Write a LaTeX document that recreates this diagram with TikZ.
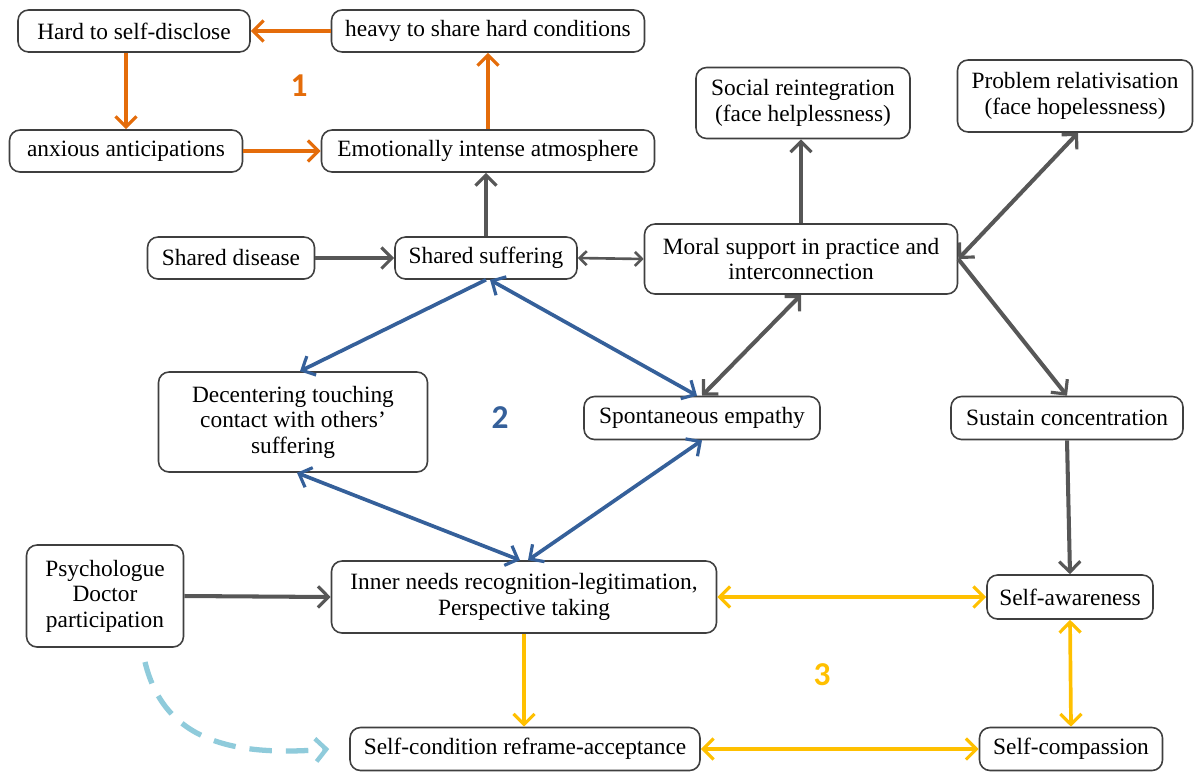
\documentclass[tikz,border=0pt]{standalone}
\usepackage{fontspec}
\setmainfont{Liberation Serif}
\newfontfamily\numfont{Carlito}
\usetikzlibrary{arrows.meta}
\definecolor{orng}{HTML}{E46C0A}
\definecolor{stblue}{HTML}{35609A}
\definecolor{dgray}{HTML}{575757}
\definecolor{ylw}{HTML}{FFC000}
\definecolor{lblue}{HTML}{8FCBDB}
\definecolor{frame}{HTML}{3F3F3F}
\begin{document}
\begin{tikzpicture}[x=0.02cm,y=-0.02cm,
  box/.style={draw=frame, line width=0.9pt, rounded corners=6pt, fill=white,
    align=center, inner sep=2pt, font=\fontsize{13.3}{14.5}\selectfont},
  sz/.style 2 args={minimum width=#1*0.02cm, minimum height=#2*0.02cm},
  tip/.style={-{Straight Barb[length=6pt,width=12pt,line width=1.8pt]}},
  tips/.style={{Straight Barb[length=6pt,width=12pt,line width=1.8pt]}-{Straight Barb[length=6pt,width=12pt,line width=1.8pt]}},
  thintips/.style={{Straight Barb[length=4pt,width=8pt]}-{Straight Barb[length=4pt,width=8pt]}},
  orange/.style={draw=orng, line width=2.3pt},
  grayln/.style={draw=dgray, line width=2.3pt},
  blueln/.style={draw=stblue, line width=2.1pt},
  yellowln/.style={draw=ylw, line width=2.1pt},
  num/.style={font=\numfont\bfseries\fontsize{19}{20}\selectfont}
]
\useasboundingbox (0,0) rectangle (1195,771);

% boxes
\node[box, sz={232}{42}] (hard)  at (134,31)  {Hard to self-disclose};
\node[box, sz={313}{42}] (heavy) at (488,31)  {heavy to share hard conditions};
\node[box, sz={233}{42}] (anx)   at (126,151) {anxious anticipations};
\node[box, sz={333}{42}] (emo)   at (488,151) {Emotionally intense atmosphere};
\node[box, sz={167}{42}] (sd)    at (231,258) {Shared disease};
\node[box, sz={182}{42}] (ss)    at (486,258) {Shared suffering};
\node[box, sz={313}{70}] (moral) at (801,259) {Moral support in practice and\\interconnection};
\node[box, sz={214}{71}] (soc)   at (803,103) {Social reintegration\\(face helplessness)};
\node[box, sz={235}{72}] (prob)  at (1075,96) {Problem relativisation\\(face hopelessness)};
\node[box, sz={269}{100}] (dec)  at (293,422) {Decentering touching\\contact with others'\\suffering};
\node[box, sz={236}{43}] (spont) at (702,418) {Spontaneous empathy};
\node[box, sz={232}{43}] (sus)   at (1067,418) {Sustain concentration};
\node[box, sz={157}{102}] (psy)  at (105,596) {Psychologue\\Doctor\\participation};
\node[box, sz={385}{72}] (inner) at (524,597) {Inner needs recognition-legitimation,\\Perspective taking};
\node[box, sz={166}{44}] (aw)    at (1070,597) {Self-awareness};
\node[box, sz={350}{43}] (cond)  at (525,749) {Self-condition reframe-acceptance};
\node[box, sz={183}{43}] (comp)  at (1071,749) {Self-compassion};

% loop numbers
\node[num, text=orng]   (n1) at (299,86)  {1};
\node[num, text=stblue] (n2) at (500,418) {2};
\node[num, text=ylw]    (n3) at (822,675) {3};

% loop 1
\draw[orange, tip] (heavy.west) -- (hard.east);
\draw[orange, tip] (anx.north |- hard.south) -- (anx.north);
\draw[orange, tip] (anx.east) -- (emo.west);
\draw[orange, tip] (emo.north) -- (heavy.south);

% grey links
\draw[grayln, tip] (ss.north) -- (ss.north |- emo.south);
\draw[grayln, tip] (sd.east) -- (ss.west);
\draw[dgray, line width=1.5pt, thintips] (ss.east) -- (moral.west);
\draw[grayln, tip] (moral.north) -- (moral.north |- soc.south);
\draw[grayln, tips] (moral.east) -- ([xshift=0.06cm]prob.south);
\draw[grayln, tip] (moral.east) -- (sus.north);
\draw[grayln, tips] (moral.south) -- (spont.north);
\draw[grayln, tip] (sus.south) -- (aw.north);
\draw[grayln, tip] (psy.east) -- (inner.west);

% loop 2
\draw[blueln, tip] (ss.south) -- ([xshift=0.14cm]dec.north);
\draw[blueln, tips] ([xshift=0.08cm]ss.south) -- ([xshift=-0.1cm]spont.north);
\draw[blueln, tips] ([xshift=0.08cm]dec.south) -- ([xshift=-0.08cm]inner.north);
\draw[blueln, tips] (spont.south) -- ([xshift=0.08cm]inner.north);

% loop 3
\draw[yellowln, tip] (inner.south) -- (inner.south |- cond.north);
\draw[yellowln, tips] (inner.east) -- (aw.west);
\draw[yellowln, tips] (aw.south) -- (comp.north);
\draw[yellowln, tips] (cond.east) -- (comp.west);

% outside support
\coordinate (dstart) at (145,662);
\draw[lblue, line width=3pt, dash pattern=on 0.45cm off 0.28cm,
      -{Straight Barb[length=6pt,width=13pt,line width=2.5pt]}]
  (dstart) .. controls (165,745) and (240,756) .. ([xshift=-0.4cm]cond.west);
\end{tikzpicture}
\end{document}
